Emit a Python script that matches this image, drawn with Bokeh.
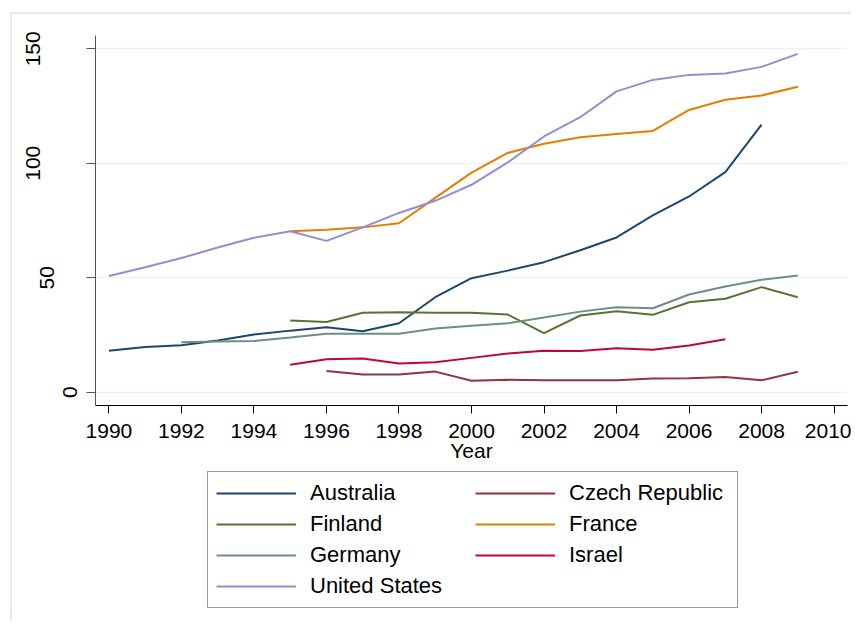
from bokeh.plotting import figure
from bokeh.layouts import column
from bokeh.models import (FixedTicker, Legend, LegendItem, LinearAxis,
                          ColumnDataSource, Range1d, InlineStyleSheet)
from bokeh.embed import file_html
from bokeh.resources import INLINE

# ---- data ----
years_aus = list(range(1990, 2009))
australia = [18.1, 19.7, 20.5, 22.6, 25.2, 26.9, 28.4, 26.6, 30.1, 41.5,
             49.8, 53.1, 56.8, 62.0, 67.6, 77.2, 85.5, 96.1, 116.9]
years_cze = list(range(1996, 2010))
czech = [9.3, 7.7, 7.7, 9.0, 5.0, 5.4, 5.2, 5.2, 5.2, 6.0, 6.1, 6.6, 5.2, 8.9]
years_fin = list(range(1995, 2010))
finland = [31.3, 30.7, 34.7, 34.9, 34.7, 34.7, 33.9, 25.8, 33.5, 35.4,
           33.8, 39.3, 40.8, 45.9, 41.5]
years_fra = list(range(1995, 2010))
france = [70.3, 71.0, 72.0, 73.8, 84.9, 95.9, 104.5, 108.5, 111.4, 112.8,
          114.1, 123.3, 127.7, 129.6, 133.4]
years_ger = list(range(1992, 2010))
germany = [21.8, 22.1, 22.4, 23.9, 25.5, 25.5, 25.5, 27.8, 29.0, 30.1,
           32.6, 35.2, 37.1, 36.7, 42.7, 46.2, 49.1, 51.0]
years_isr = list(range(1995, 2008))
israel = [12.0, 14.4, 14.7, 12.5, 13.1, 15.0, 16.9, 18.1, 18.0, 19.2,
          18.5, 20.4, 23.1]
years_usa = list(range(1990, 2010))
usa = [50.8, 54.6, 58.6, 63.2, 67.5, 70.3, 66.1, 72.0, 78.3, 83.6,
       90.6, 100.4, 111.7, 120.1, 131.4, 136.4, 138.6, 139.2, 142.1, 147.8]

x_ticks = [1990, 1992, 1994, 1996, 1998, 2000, 2002, 2004, 2006, 2008, 2010]
y_ticks = [0, 50, 100, 150]
x_title = "Year"

series = [
    ("Australia", years_aus, australia, "#1a476f"),
    ("Czech Republic", years_cze, czech, "#90353b"),
    ("Finland", years_fin, finland, "#55752f"),
    ("France", years_fra, france, "#e37e00"),
    ("Germany", years_ger, germany, "#6e8e84"),
    ("Israel", years_isr, israel, "#c10534"),
    ("United States", years_usa, usa, "#938dd2"),
]

FONT = "Liberation Sans"
BORDER = "2px solid #e3ebed"

p = figure(frame_width=752, frame_height=370, output_backend="svg",
           toolbar_location=None, y_axis_location=None,
           x_range=Range1d(1989.63, 2010.37), y_range=Range1d(-5.8, 155.8),
           min_border_left=95, min_border_right=4, min_border_top=35,
           min_border_bottom=66)
p.outline_line_color = None
p.background_fill_color = "white"
p.border_fill_color = "white"

# faint outer graph-region border (extends past the right/bottom edges)
p.stylesheets = [InlineStyleSheet(css=f"""
:host::after {{
  content: ""; position: absolute; left: 10px; top: 12px;
  width: 2000px; height: 2000px; border: {BORDER};
  pointer-events: none;
}}
:host {{ overflow: hidden; }}
""")]

# x axis
p.xaxis.ticker = FixedTicker(ticks=x_ticks)
p.xaxis.minor_tick_line_color = None
p.xaxis.major_tick_out = 8
p.xaxis.major_tick_in = 0
p.xaxis.major_tick_line_color = "black"
p.xaxis.axis_line_color = "black"
p.xaxis.major_label_text_font = FONT
p.xaxis.major_label_text_font_size = "21px"
p.xaxis.major_label_text_color = "black"
p.xaxis.major_label_standoff = 10
p.xaxis.axis_label = x_title
p.xaxis.axis_label_text_font = FONT
p.xaxis.axis_label_text_font_size = "21px"
p.xaxis.axis_label_text_font_style = "normal"
p.xaxis.axis_label_text_color = "black"
p.xaxis.axis_label_standoff = -2

# y axes: Stata offsets its rotated labels by their length, so labels of
# different length live on stacked axes (closest axis carries line + ticks)
label_axes = {}
for t in y_ticks:
    label_axes.setdefault(len(str(t)), []).append(t)
standoffs = {1: 9, 2: 6, 3: -3}
for n in sorted(label_axes):
    ticks = label_axes[n]
    if n == 1:
        ax = LinearAxis(ticker=FixedTicker(ticks=y_ticks),
                        major_label_overrides={t: "" for t in y_ticks if t not in ticks})
        ax.axis_line_color = "#555555"
        ax.major_tick_line_color = "#555555"
        ax.major_tick_out = 9
    else:
        ax = LinearAxis(ticker=FixedTicker(ticks=ticks))
        ax.axis_line_color = None
        ax.major_tick_line_color = None
        ax.major_tick_out = 0
    ax.major_tick_in = 0
    ax.minor_tick_line_color = None
    ax.major_label_orientation = "vertical"
    ax.major_label_standoff = standoffs[n]
    ax.major_label_text_font = FONT
    ax.major_label_text_font_size = "21px"
    ax.major_label_text_color = "black"
    p.add_layout(ax, "left")

p.xgrid.grid_line_color = None
p.ygrid.ticker = FixedTicker(ticks=y_ticks)
p.ygrid.grid_line_color = "#eaf2f3"
p.ygrid.grid_line_width = 1.5

for name, xs, ys, col in series:
    src = ColumnDataSource(dict(x=xs, y=ys))
    p.line("x", "y", source=src, line_color=col, line_width=2)

# legend strip below the chart (legend-only proxy renderers, nothing drawn)
pl = figure(width=851, height=150, output_backend="svg", toolbar_location=None,
            x_axis_location=None, y_axis_location=None, min_border=0,
            x_range=Range1d(0, 1), y_range=Range1d(0, 1))
pl.outline_line_color = None
pl.grid.visible = False
pl.stylesheets = [InlineStyleSheet(css=f"""
:host::after {{
  content: ""; position: absolute; left: 10px; top: -20px;
  width: 2000px; height: 2000px; border: {BORDER};
  pointer-events: none;
}}
:host {{ overflow: hidden; }}
""")]
items = []
for name, xs, ys, col in series:
    r = pl.line(x=[float("nan")], y=[float("nan")], line_color=col, line_width=2)
    items.append(LegendItem(label=name, renderers=[r]))

legend = Legend(items=items, ncols=2, orientation="horizontal",
                location=(112, 13),
                label_text_font=FONT, label_text_font_size="22px",
                label_text_color="black",
                glyph_width=80, glyph_height=20, label_height=20,
                label_width=160,
                label_standoff=14, spacing=5, padding=8,
                border_line_color="#333333", border_line_width=1,
                background_fill_color="white", margin=0)
pl.add_layout(legend, "center")

layout = column(p, pl, spacing=0)
open("out.html", "w").write(file_html(layout, INLINE))
